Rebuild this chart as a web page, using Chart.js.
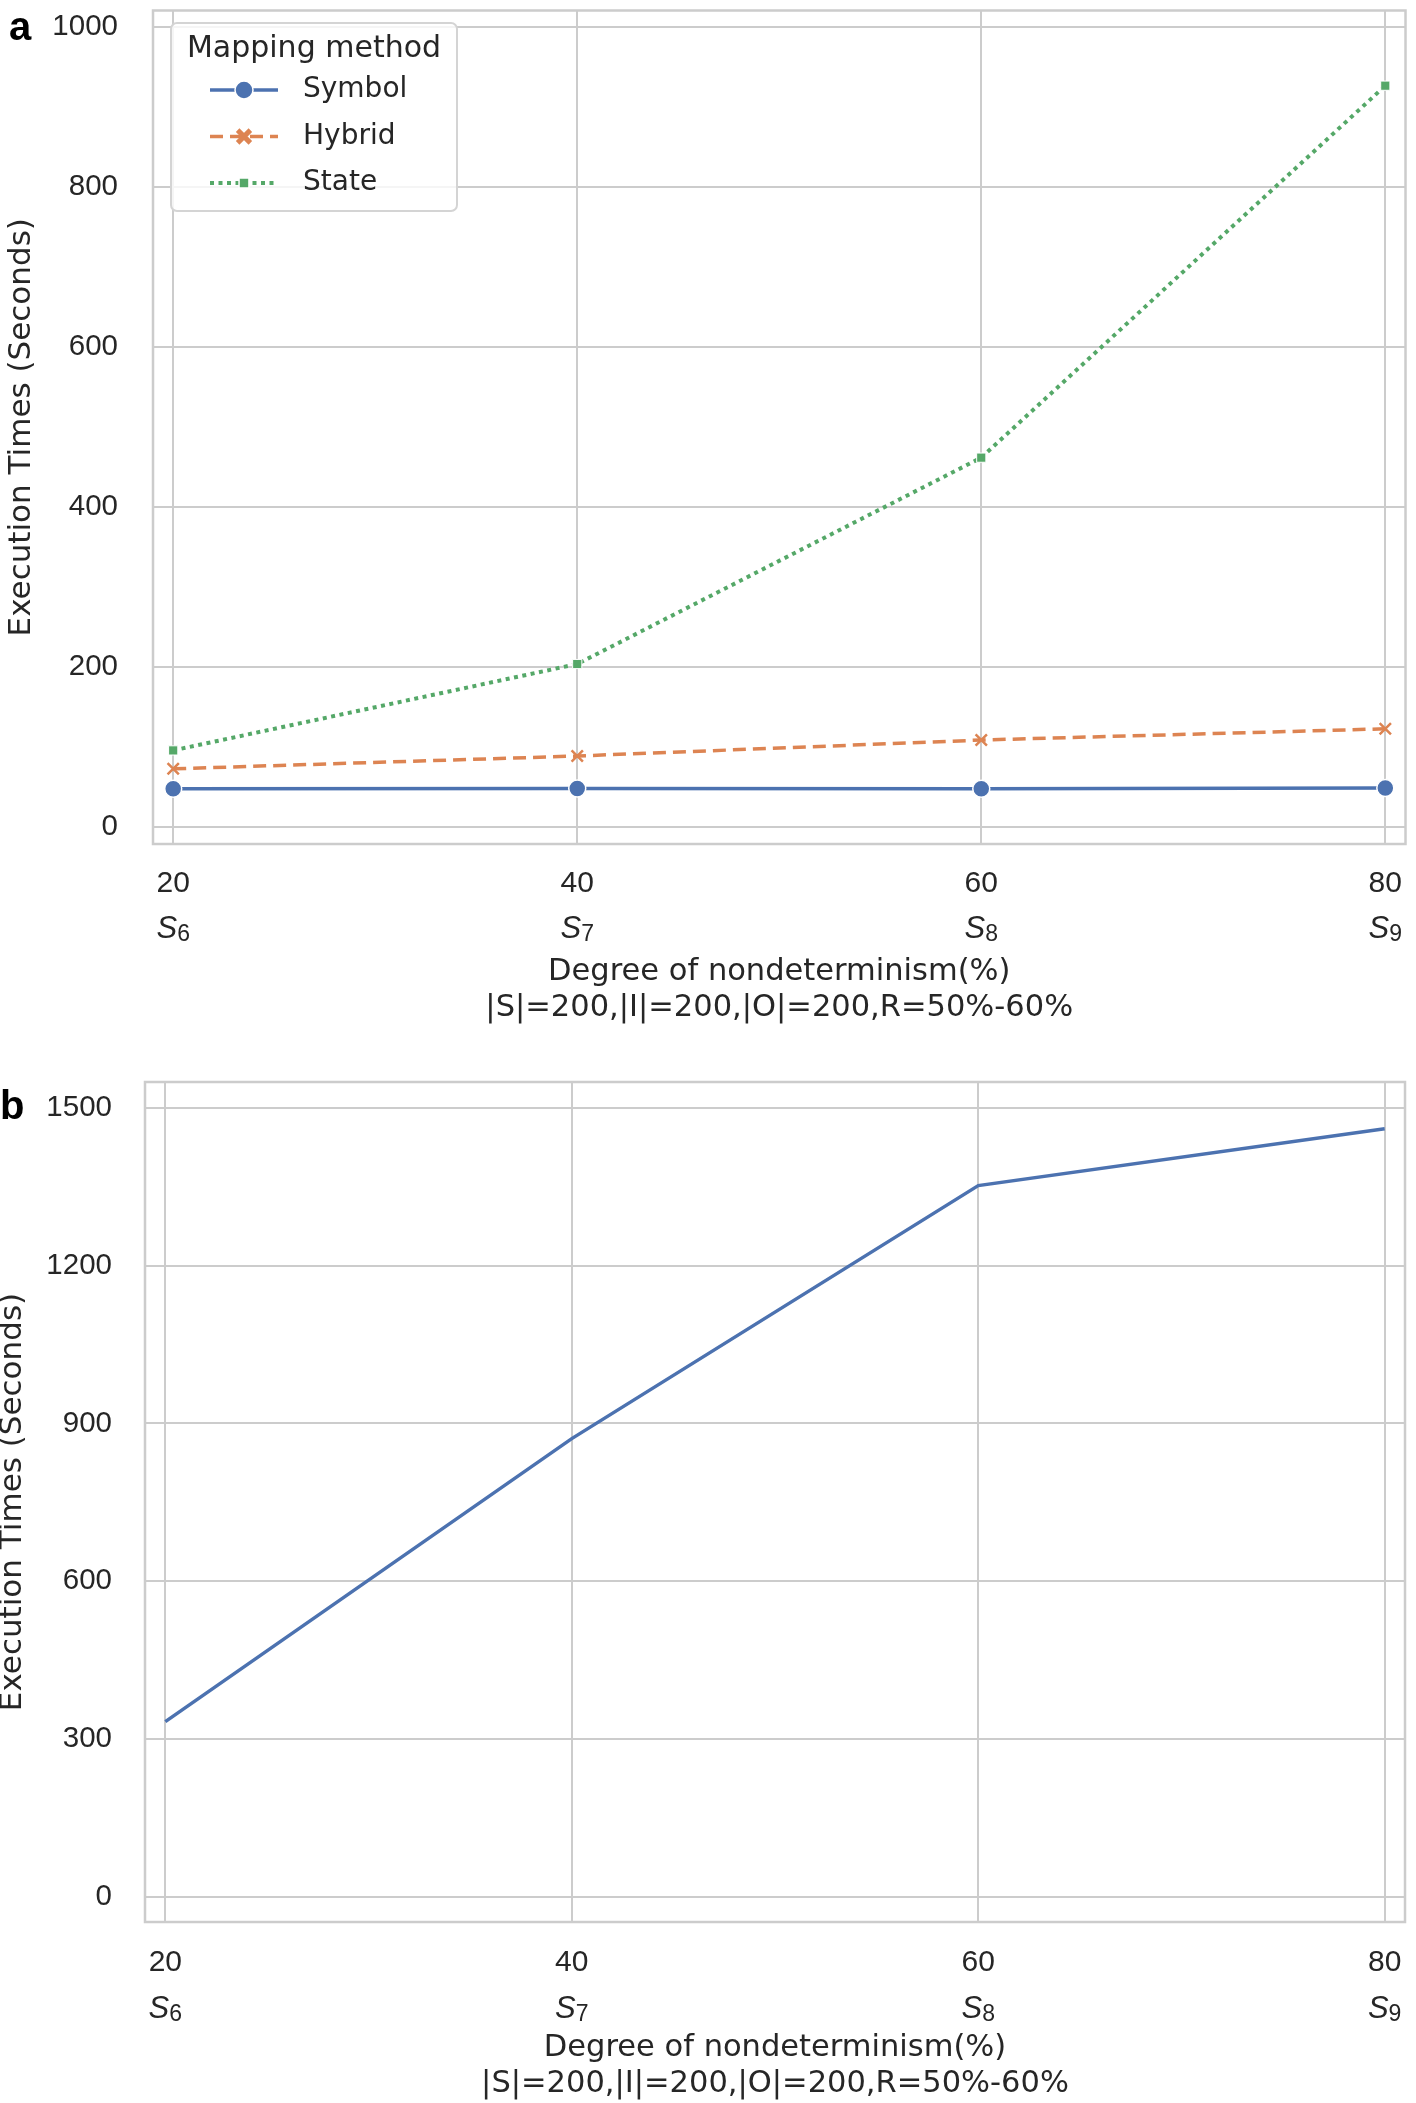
<!DOCTYPE html>
<html>
<head>
<meta charset="utf-8">
<title>Execution times vs degree of nondeterminism</title>
<script src="https://cdn.jsdelivr.net/npm/chart.js@4.4.1/dist/chart.umd.min.js"></script>
<style>
  html, body { margin: 0; padding: 0; background: #fff; }
  body { width: 1416px; height: 2103px; position: relative; overflow: hidden; }
  .panel { position: absolute; left: 0; width: 1416px; }
  #wrapA { top: 0; height: 1040px; }
  #wrapB { top: 1040px; height: 1063px; }
  .tag { position: absolute; font: bold 40px "Liberation Sans", Arial, sans-serif; color: #000; line-height: 1; }
</style>
</head>
<body>
<div class="panel" id="wrapA"><canvas id="chartA"></canvas></div>
<div class="panel" id="wrapB"><canvas id="chartB"></canvas></div>
<div class="tag" style="left:9px;top:6px">a</div>
<div class="tag" style="left:0px;top:1085px">b</div>

<script>
// ---- data ----
const xValues = [20, 40, 60, 80];
const xSubs = ['6', '7', '8', '9'];
const yTicksA = [0, 200, 400, 600, 800, 1000];
const yTicksB = [0, 300, 600, 900, 1200, 1500];
const symbolTimes = [48, 48.5, 48, 49];
const hybridTimes = [73, 89, 109, 123];
const stateTimes = [96, 204, 462, 927];
const totalTimes = [333, 871, 1352, 1460];

const xTitle = ['Degree of nondeterminism(%)', '|S|=200,|I|=200,|O|=200,R=50%-60%'];
const yTitle = 'Execution Times (Seconds)';
const legendTitle = 'Mapping method';

const TEXT = '#262626';
const GRID = '#cccccc';
const TICKFONT = '"Liberation Sans", Arial, sans-serif';
const LABELFONT = '"DejaVu Sans", Verdana, sans-serif';

const pts = arr => xValues.map((x, i) => ({ x, y: arr[i] }));

// chart-area frame (seaborn whitegrid spines)
const framePlugin = {
  id: 'frame',
  beforeDatasetsDraw(chart) {
    const { ctx, chartArea: a } = chart;
    ctx.save();
    ctx.strokeStyle = GRID;
    ctx.lineWidth = 2.5;
    ctx.strokeRect(a.left, a.top, a.right - a.left, a.bottom - a.top);
    ctx.restore();
  }
};

// second tick line: italic S with subscript index
const subLabels = {
  id: 'subLabels',
  afterDraw(chart, args, opts) {
    const sx = chart.scales.x, ctx = chart.ctx;
    const base = sx.top + opts.offset;
    ctx.save();
    ctx.fillStyle = TEXT;
    ctx.textBaseline = 'alphabetic';
    ctx.textAlign = 'left';
    xValues.forEach((v, i) => {
      const px = sx.getPixelForValue(v);
      ctx.font = 'italic 31px ' + TICKFONT;
      const w1 = ctx.measureText('S').width;
      ctx.font = '23px ' + TICKFONT;
      const w2 = ctx.measureText(xSubs[i]).width;
      const left = px - (w1 + w2) / 2;
      ctx.font = 'italic 31px ' + TICKFONT;
      ctx.fillText('S', left, base);
      ctx.font = '23px ' + TICKFONT;
      ctx.fillText(xSubs[i], left + w1, base + 3);
    });
    ctx.restore();
  }
};

// legend drawn inside the plot, top left
const innerLegend = {
  id: 'innerLegend',
  afterDatasetsDraw(chart, args, o) {
    if (!o || !o.show) return;
    const ctx = chart.ctx;
    ctx.save();
    ctx.beginPath();
    ctx.roundRect(o.x, o.y, o.w, o.h, 6);
    ctx.fillStyle = 'rgba(255,255,255,0.8)';
    ctx.fill();
    ctx.strokeStyle = '#d4d4d4';
    ctx.lineWidth = 2;
    ctx.stroke();

    ctx.fillStyle = TEXT;
    ctx.font = '30px ' + LABELFONT;
    ctx.textAlign = 'center';
    ctx.textBaseline = 'middle';
    ctx.fillText(legendTitle, o.x + o.w / 2, o.y + 26);

    chart.data.datasets.forEach((ds, i) => {
      const cy = o.y + 67 + i * 46.5;
      ctx.strokeStyle = ds.borderColor;
      ctx.lineWidth = ds.borderWidth;
      ctx.setLineDash(ds.borderDash || []);
      ctx.beginPath();
      ctx.moveTo(o.x + 39, cy);
      ctx.lineTo(o.x + 107, cy);
      ctx.stroke();
      ctx.setLineDash([]);
      ctx.fillStyle = ds.pointBackgroundColor;
      ctx.strokeStyle = ds.pointStyle === 'crossRot' ? ds.borderColor : '#fff';
      ctx.lineWidth = ds.pointStyle === 'crossRot' ? 5 : 1.5;
      Chart.helpers.drawPoint(ctx, {
        pointStyle: ds.pointStyle,
        radius: ds.pointStyle === 'rect' ? 7 : 9,
        rotation: 0,
        borderWidth: ctx.lineWidth
      }, o.x + 73, cy);
      ctx.fillStyle = TEXT;
      ctx.font = '28px ' + LABELFONT;
      ctx.textAlign = 'left';
      ctx.fillText(ds.label, o.x + 132, cy);
    });
    ctx.restore();
  }
};

function makeScales(c) {
  return {
    x: {
      type: 'linear', min: 19, max: 81,
      afterBuildTicks: s => { s.ticks = xValues.map(v => ({ value: v })); },
      afterFit: s => { s.height = c.xh; s.paddingLeft = 0; s.paddingRight = 0; },
      grid: { color: GRID, lineWidth: 2, drawTicks: false },
      border: { display: false },
      ticks: { padding: c.xpad, color: TEXT, maxRotation: 0, autoSkip: false,
               font: { family: TICKFONT, size: 30 }, callback: v => String(v) },
      title: { display: true, text: xTitle, color: TEXT,
               font: { family: LABELFONT, size: 30.5, lineHeight: 1.18 },
               padding: { top: 0, bottom: c.tpad } }
    },
    y: {
      type: 'linear', min: c.ymin, max: c.ymax,
      afterBuildTicks: s => { s.ticks = c.yticks.map(v => ({ value: v })); },
      afterFit: s => { s.width = c.yw; s.paddingTop = 0; s.paddingBottom = 0; },
      grid: { color: GRID, lineWidth: 2, drawTicks: false },
      border: { display: false },
      ticks: { padding: c.ypad, color: TEXT, autoSkip: false,
               font: { family: TICKFONT, size: 29.5 }, callback: v => String(v) },
      title: { display: true, text: yTitle, color: TEXT,
               font: { family: LABELFONT, size: 31, lineHeight: c.ylh },
               padding: { top: c.ytp, bottom: 0 } }
    }
  };
}

// ---- panel a ----
new Chart(document.getElementById('chartA'), {
  type: 'line',
  data: {
    datasets: [
      { label: 'Symbol', data: pts(symbolTimes), borderColor: '#4c72b0', backgroundColor: '#4c72b0',
        borderWidth: 3.5, pointStyle: 'circle', pointRadius: 8.5, pointBackgroundColor: '#4c72b0',
        pointBorderColor: '#ffffff', pointBorderWidth: 1.5 },
      { label: 'Hybrid', data: pts(hybridTimes), borderColor: '#dd8452', backgroundColor: '#dd8452',
        borderWidth: 3.5, borderDash: [13, 7], pointStyle: 'crossRot', pointRadius: 8,
        pointBackgroundColor: '#dd8452', pointBorderColor: '#dd8452', pointBorderWidth: 2.5 },
      { label: 'State', data: pts(stateTimes), borderColor: '#55a868', backgroundColor: '#55a868',
        borderWidth: 4, borderDash: [4, 4.5], pointStyle: 'rect', pointRadius: 6.5,
        pointBackgroundColor: '#55a868', pointBorderColor: '#ffffff', pointBorderWidth: 1 }
    ]
  },
  options: {
    responsive: true, maintainAspectRatio: false, animation: false,
    layout: { padding: { top: 4, right: 3, left: 0, bottom: 0 } },
    scales: makeScales({ xh: 196, xpad: 22, tpad: 14, ymin: -21, ymax: 1021, yticks: yTicksA,
                         yw: 153, ypad: 35, ylh: 1.2, ytp: 3 }),
    plugins: {
      legend: { display: false }, tooltip: { enabled: false },
      subLabels: { offset: 94 },
      innerLegend: { show: true, x: 171, y: 23, w: 286, h: 188 }
    }
  },
  plugins: [framePlugin, subLabels, innerLegend]
});

// ---- panel b ----
new Chart(document.getElementById('chartB'), {
  type: 'line',
  data: {
    datasets: [
      { label: 'Total', data: pts(totalTimes), borderColor: '#4c72b0', backgroundColor: '#4c72b0',
        borderWidth: 3.5, pointRadius: 0 }
    ]
  },
  options: {
    responsive: true, maintainAspectRatio: false, animation: false,
    layout: { padding: { top: 42, right: 11, left: 0, bottom: 0 } },
    scales: makeScales({ xh: 181, xpad: 23, tpad: 1, ymin: -48, ymax: 1549, yticks: yTicksB,
                         yw: 145, ypad: 33, ylh: 0.84, ytp: 0 }),
    plugins: {
      legend: { display: false }, tooltip: { enabled: false },
      subLabels: { offset: 96 },
      innerLegend: { show: false }
    }
  },
  plugins: [framePlugin, subLabels, innerLegend]
});
</script>
</body>
</html>
